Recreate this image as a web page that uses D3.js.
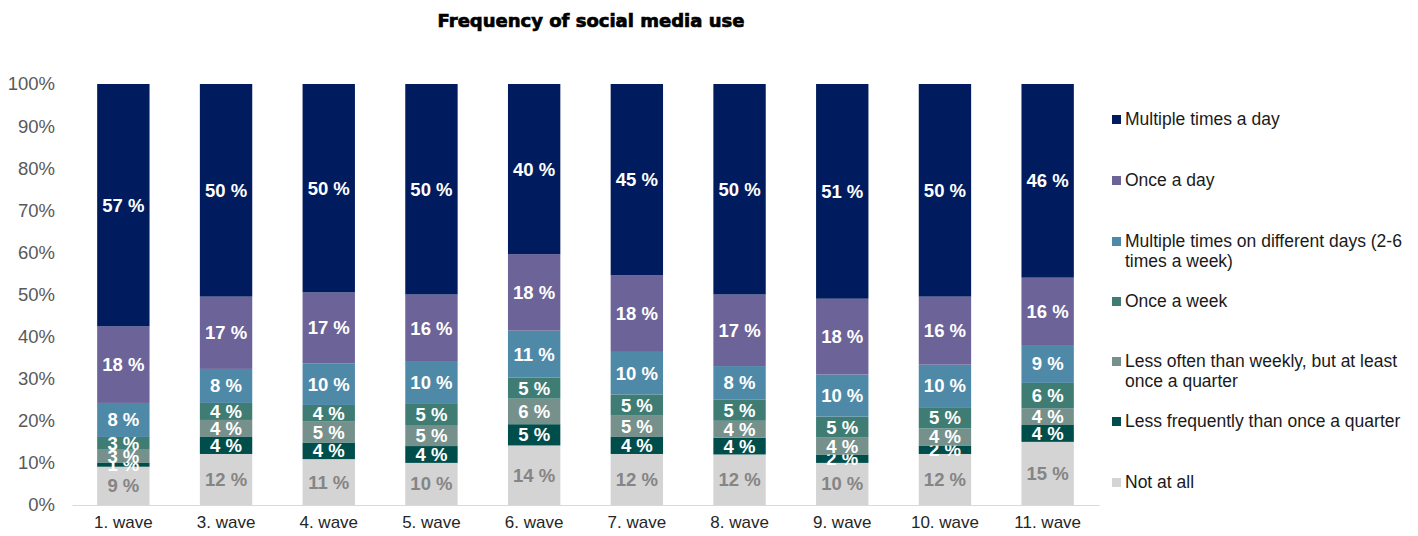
<!DOCTYPE html>
<html>
<head>
<meta charset="utf-8">
<script src="https://cdn.jsdelivr.net/npm/d3@7"></script>
<style>
  body { margin: 0; background: #fff; }
  svg { font-family: "Liberation Sans", Arial, sans-serif; }
</style>
</head>
<body>
<div class="chart"></div>
<script>
var waves = ["1. wave", "3. wave", "4. wave", "5. wave", "6. wave", "7. wave", "8. wave", "9. wave", "10. wave", "11. wave"];

// series from bottom to top of the stack
var keys = ["Not at all", "Less frequently than once a quarter", "Less often than weekly, but at least once a quarter",
            "Once a week", "Multiple times on different days (2-6 times a week)", "Once a day", "Multiple times a day"];

var notAtAll      = [9, 12, 11, 10, 14, 12, 12, 10, 12, 15];
var lessQuarter   = [1, 4, 4, 4, 5, 4, 4, 2, 2, 4];
var lessWeekly    = [3, 4, 5, 5, 6, 5, 4, 4, 4, 4];
var onceWeek      = [3, 4, 4, 5, 5, 5, 5, 5, 5, 6];
var multiDays     = [8, 8, 10, 10, 11, 10, 8, 10, 10, 9];
var onceDay       = [18, 17, 17, 16, 18, 18, 17, 18, 16, 16];
var multiDay      = [57, 50, 50, 50, 40, 45, 50, 51, 50, 46];

var yTicks = [0, 0.1, 0.2, 0.3, 0.4, 0.5, 0.6, 0.7, 0.8, 0.9, 1];

var colors = ["#d4d4d4", "#004e4b", "#76908c", "#3f7d74", "#4f89a8", "#6c6398", "#001c5e"];

var series = [notAtAll, lessQuarter, lessWeekly, onceWeek, multiDays, onceDay, multiDay];
var data = waves.map(function(w, i) {
  var row = {wave: w};
  keys.forEach(function(k, j) { row[k] = series[j][i]; });
  return row;
});

var margin = {top: 84, right: 319, bottom: 31, left: 72},
    width = 1418 - margin.left - margin.right,
    height = 536 - margin.top - margin.bottom;

var svg = d3.select(".chart")
  .append("svg")
    .attr("width", 1418)
    .attr("height", 536)
  .append("g")
    .attr("transform", "translate(" + margin.left + "," + margin.top + ")");

// title
svg.append("text")
  .attr("x", 519)
  .attr("y", -57)
  .attr("text-anchor", "middle")
  .attr("font-size", "18px")
  .attr("font-weight", "bold")
  .attr("font-family", "DejaVu Sans, sans-serif")
  .attr("stroke", "#000")
  .attr("stroke-width", 0.7)
  .text("Frequency of social media use");

var x = d3.scaleBand()
  .range([0, width])
  .domain(waves)
  .paddingInner(0.49)
  .paddingOuter(0.245);

var y = d3.scaleLinear()
  .domain([0, 1])
  .range([height, 0]);

var stacked = d3.stack().keys(keys).offset(d3.stackOffsetExpand)(data);

var color = d3.scaleOrdinal().domain(keys).range(colors);

// bars
var layer = svg.selectAll(".layer")
  .data(stacked)
  .enter().append("g")
    .attr("class", "layer")
    .attr("fill", function(d) { return color(d.key); });

layer.selectAll("rect")
  .data(function(d) { return d; })
  .enter().append("rect")
    .attr("x", function(d) { return x(d.data.wave); })
    .attr("y", function(d) { return y(d[1]); })
    .attr("width", x.bandwidth())
    .attr("height", function(d) { return y(d[0]) - y(d[1]); });

// value labels
layer.selectAll("text")
  .data(function(d) { return d.map(function(p) { p.key = d.key; return p; }); })
  .enter().append("text")
    .attr("x", function(d) { return x(d.data.wave) + x.bandwidth() / 2; })
    .attr("y", function(d) { return y((d[0] + d[1]) / 2); })
    .attr("dy", "0.35em")
    .attr("text-anchor", "middle")
    .attr("font-size", "18.5px")
    .attr("font-weight", "bold")
    .attr("fill", function(d) { return d.key == "Not at all" ? "#858585" : "#fff"; })
    .text(function(d) { return d.data[d.key] + " %"; });

// x axis
var xAxis = svg.append("g")
  .attr("transform", "translate(0," + height + ")")
  .call(d3.axisBottom(x).tickSize(0).tickPadding(11));
xAxis.select(".domain").attr("stroke", "#d9d9d9");
xAxis.selectAll("text").attr("font-size", "17px").attr("fill", "#262626")
  .attr("font-family", "Liberation Sans, Arial, sans-serif");

// y axis
var yAxis = svg.append("g")
  .call(d3.axisLeft(y).tickValues(yTicks).tickFormat(d3.format(".0%")).tickSize(0).tickPadding(17));
yAxis.select(".domain").remove();
yAxis.selectAll("text").attr("font-size", "18.5px").attr("fill", "#595959")
  .attr("font-family", "Liberation Sans, Arial, sans-serif");

// legend, top to bottom
var legendKeys = keys.slice().reverse();
var legendLines = [["Multiple times a day"], ["Once a day"], ["Multiple times on different days (2-6", "times a week)"],
                   ["Once a week"], ["Less often than weekly, but at least", "once a quarter"],
                   ["Less frequently than once a quarter"], ["Not at all"]];
var legendY = [35, 96, 157, 217, 277, 337, 398];

var legend = svg.selectAll(".legend")
  .data(legendKeys)
  .enter().append("g")
    .attr("class", "legend")
    .attr("transform", function(d, i) { return "translate(" + (width + 13) + "," + legendY[i] + ")"; });

legend.append("rect")
  .attr("x", 0)
  .attr("y", -4)
  .attr("width", 9)
  .attr("height", 9)
  .attr("fill", function(d) { return color(d); });

legend.append("text")
  .attr("x", 13)
  .attr("y", 0)
  .attr("font-size", "17.5px")
  .attr("fill", "#1a1a1a")
  .selectAll("tspan")
  .data(function(d, i) { return legendLines[i]; })
  .enter().append("tspan")
    .attr("x", 13)
    .attr("dy", function(d, i) { return i == 0 ? "0.35em" : "1.15em"; })
    .text(function(d) { return d; });
</script>
</body>
</html>
